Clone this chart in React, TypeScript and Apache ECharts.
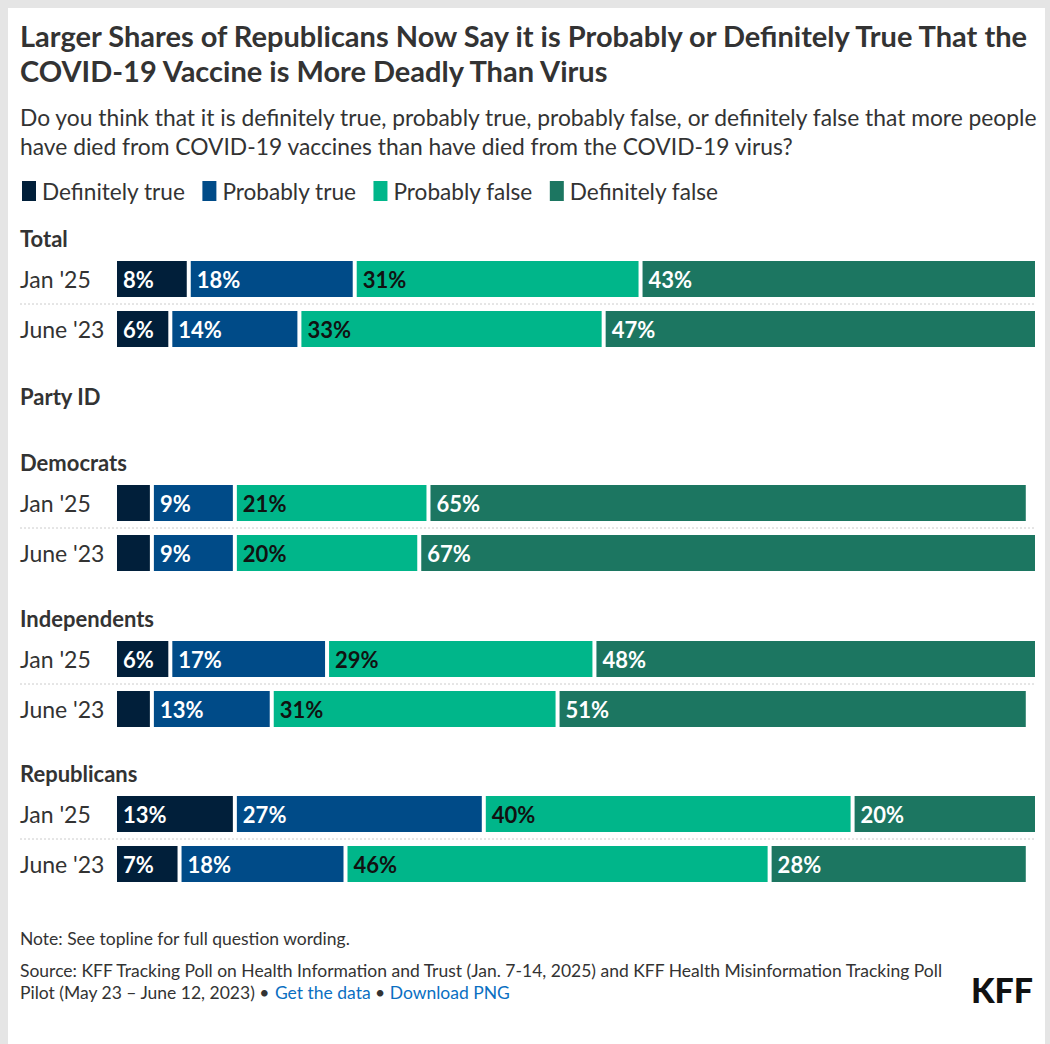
import React, { useEffect, useRef } from "react";
import * as echarts from "echarts";

const categories = ["Jan '25", "June '23"];
const groups = ["Total", "Democrats", "Independents", "Republicans"];
const seriesNames = ["Definitely true", "Probably true", "Probably false", "Definitely false"];
const definitelyTrue = [[8, 6], [4, 4], [6, 4], [13, 7]];
const probablyTrue = [[18, 14], [9, 9], [17, 13], [27, 18]];
const probablyFalse = [[31, 33], [21, 20], [29, 31], [40, 46]];
const definitelyFalse = [[43, 47], [65, 67], [48, 51], [20, 28]];
const colors = ["#011f3a", "#004b88", "#00b68a", "#1c7661"];
const labelColors = ["#ffffff", "#ffffff", "#111111", "#ffffff"];

const FONT = "Lato, 'Noto Sans', sans-serif";
const TEXT = "#333333";

export default function App() {
  const ref = useRef<HTMLDivElement>(null);
  useEffect(() => {
    if (!ref.current) return;
    const chart = echarts.init(ref.current, undefined, { renderer: "svg" });
    const gridTops = [246, 470, 626, 781];
    const rowH = 50;
    const gridLeft = 107;
    const allValues = [definitelyTrue, probablyTrue, probablyFalse, definitelyFalse];

    const grids = gridTops.map((t) => ({ left: gridLeft, right: 8, top: t, height: rowH * 2 }));
    const xAxes = gridTops.map((_, i) => ({ gridIndex: i, type: "value", min: 0, max: 100, show: false }));
    const yAxes = gridTops.map((_, i) => ({
      gridIndex: i,
      type: "category",
      inverse: true,
      data: categories,
      axisLine: { show: false },
      axisTick: { show: false },
      splitLine: { show: false },
      axisLabel: {
        margin: gridLeft - 12,
        align: "left",
        fontSize: 23,
        color: TEXT,
        fontFamily: FONT,
      },
    }));
    const series: any[] = [];
    groups.forEach((g, gi) => {
      seriesNames.forEach((name, si) => {
        series.push({
          type: "bar",
          name,
          xAxisIndex: gi,
          yAxisIndex: gi,
          stack: "s" + gi,
          barWidth: 40,
          data: allValues[si][gi],
          itemStyle: { color: colors[si], borderColor: "#ffffff", borderWidth: 2 },
          label: {
            show: true,
            position: "insideLeft",
            distance: 8,
            formatter: (p: any) => (p.value < 5 ? "" : p.value + "%"),
            color: labelColors[si],
            fontSize: 22,
            fontWeight: "bold",
            fontFamily: FONT,
          },
        });
      });
    });

    const graphics: any[] = [];
    gridTops.forEach((t, i) => {
      graphics.push({
        type: "text",
        left: 12,
        top: t - 14 - 13,
        style: { text: groups[i], fontSize: 22, fontWeight: "bold", fill: TEXT, fontFamily: FONT },
      });
      graphics.push({
        type: "line",
        shape: { x1: 12, y1: t + rowH, x2: 1027, y2: t + rowH },
        style: { stroke: "#cccccc", lineWidth: 1, lineDash: [2, 2] },
        z: 10,
      });
    });
    graphics.push({
      type: "text",
      left: 12,
      top: 390 - 13,
      style: { text: "Party ID", fontSize: 22, fontWeight: "bold", fill: TEXT, fontFamily: FONT },
    });
    graphics.push({
      type: "text",
      left: 12,
      top: 932 - 11,
      style: { text: "Note: See topline for full question wording.", fontSize: 17.5, fill: TEXT, fontFamily: FONT },
    });
    graphics.push({
      type: "text",
      left: 12,
      top: 962 - 11,
      style: {
        text:
          "Source: KFF Tracking Poll on Health Information and Trust (Jan. 7-14, 2025) and KFF Health Misinformation Tracking Poll\nPilot (May 23 – June 12, 2023) • {a|Get the data} • {a|Download PNG}",
        fontSize: 17.5,
        lineHeight: 22,
        fill: TEXT,
        fontFamily: FONT,
        rich: { a: { fill: "#0a6fc2", fontSize: 17.5, fontFamily: FONT } },
      },
    });
    graphics.push({
      type: "text",
      right: 12,
      top: 982 - 18,
      style: { text: "KFF", fontSize: 34, fontWeight: 900, fill: "#111111", fontFamily: FONT },
    });

    chart.setOption({
      animation: false,
      backgroundColor: "#ffffff",
      title: [
        {
          text: "Larger Shares of Republicans Now Say it is Probably or Definitely True That the\nCOVID-19 Vaccine is More Deadly Than Virus",
          left: 12,
          top: 10,
          padding: 0,
          textStyle: { fontSize: 29, fontWeight: "bold", lineHeight: 35, color: TEXT, fontFamily: FONT },
        },
        {
          text: "Do you think that it is definitely true, probably true, probably false, or definitely false that more people\nhave died from COVID-19 vaccines than have died from the COVID-19 virus?",
          left: 12,
          top: 94,
          padding: 0,
          textStyle: { fontSize: 22.8, fontWeight: "normal", lineHeight: 29, color: TEXT, fontFamily: FONT },
        },
      ],
      legend: {
        data: seriesNames,
        left: 12,
        top: 171,
        padding: 0,
        icon: "rect",
        itemWidth: 16,
        itemHeight: 22,
        itemGap: 15,
        selectedMode: false,
        textStyle: { fontSize: 22.6, color: TEXT, fontFamily: FONT },
      },
      grid: grids,
      xAxis: xAxes,
      yAxis: yAxes,
      series,
      graphic: graphics,
    });
    return () => chart.dispose();
  }, []);
  return (
    <div style={{ position: "absolute", left: 0, top: 0, width: 1050, height: 1044, background: "#e5e5e5", overflow: "hidden" }}>
      <div ref={ref} style={{ position: "absolute", left: 8, top: 8, width: 1037, height: 1036 }} />
    </div>
  );
}
